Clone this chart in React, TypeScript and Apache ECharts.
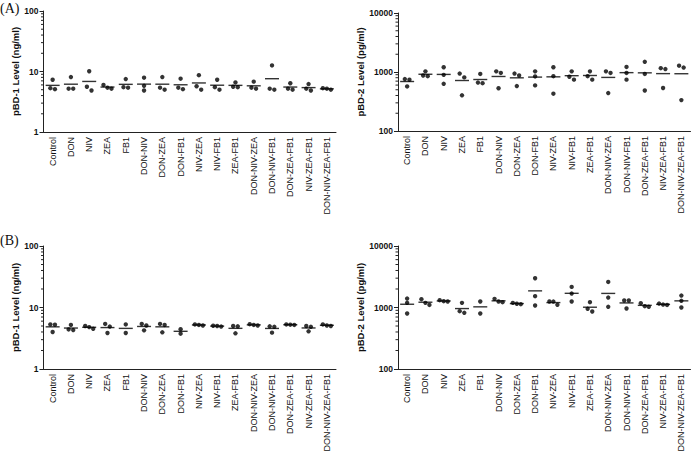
import React, { useEffect, useRef } from "react";
import * as echarts from "echarts";

const categories = [
  "Control", "DON", "NIV", "ZEA", "FB1", "DON-NIV", "DON-ZEA", "DON-FB1",
  "NIV-ZEA", "NIV-FB1", "ZEA-FB1", "DON-NIV-ZEA", "DON-NIV-FB1",
  "DON-ZEA-FB1", "NIV-ZEA-FB1", "DON-NIV-ZEA-FB1",
];

// (A) pBD-1 (ng/ml)
const aPbd1 = [
  [7.3, 5.1, 5.3], [8.1, 5.2, 5.2], [10.1, 4.85, 5.6], [6.0, 5.2, 5.4],
  [7.5, 5.4, 5.5], [7.9, 4.85, 5.8], [8.1, 5.0, 5.4], [7.6, 5.1, 5.4],
  [8.7, 5.0, 5.7], [7.3, 5.0, 5.5], [6.6, 5.6, 5.5], [6.8, 5.2, 5.4],
  [12.6, 5.0, 5.2], [6.4, 5.0, 5.2], [6.2, 4.85, 5.2], [5.2, 5.0, 5.3],
];
// (A) pBD-2 (pg/ml)
const aPbd2 = [
  [760, 740, 570], [1025, 872, 850], [1205, 894, 631], [940, 810, 403],
  [928, 663, 647], [1025, 964, 530], [940, 872, 578], [1025, 840, 593],
  [1205, 850, 429], [1025, 830, 742], [1025, 850, 742], [1025, 964, 440],
  [1220, 964, 742], [1490, 928, 486], [1160, 1120, 536], [1280, 1190, 334],
];
// (B) pBD-1 (ng/ml)
const bPbd1 = [
  [5.3, 5.25, 4.0], [5.2, 4.4, 4.3], [5.0, 4.8, 4.5], [5.4, 4.9, 3.85],
  [5.3, 3.85], [5.4, 5.1, 4.25], [5.4, 5.2, 3.95], [4.45, 3.75],
  [5.3, 5.1, 5.2], [5.0, 4.9, 5.05], [4.95, 5.0, 3.8], [5.35, 5.1, 5.2],
  [4.95, 4.85, 3.9], [5.3, 5.2, 5.25], [5.0, 4.85, 4.1], [5.3, 5.1, 5.0],
];
// (B) pBD-2 (pg/ml)
const bPbd2 = [
  [1399, 1190, 799], [1365, 1190, 1100], [1315, 1267, 1251], [1190, 872, 820],
  [1251, 799], [1382, 1251, 1220], [1190, 1150, 1133], [2990, 1527, 1078],
  [1251, 1250, 1105], [2163, 1687, 1251], [1220, 951, 861], [2607, 1452, 1025],
  [1299, 1299, 963], [1176, 1051, 1025], [1160, 1115, 1100], [1565, 1283, 1000],
];

const pbd1Ticks = [1, 10, 100];
const pbd2Ticks = [100, 1000, 10000];
const minorFactors = [2, 3, 4, 5, 6, 7, 8, 9];

const FONT = "Liberation Sans";

type Panel = {
  data: number[][];
  name: string;
  ticks: number[];
  grid: { left: number; top: number; width: number; height: number };
  nameGap: number;
};

const panels: Panel[] = [
  { data: aPbd1, name: "pBD-1 Level (ng/ml)", ticks: pbd1Ticks, grid: { left: 43.5, top: 11, width: 292.5, height: 121 }, nameGap: 19 },
  { data: aPbd2, name: "pBD-2 Level (pg/ml)", ticks: pbd2Ticks, grid: { left: 398, top: 13, width: 292.5, height: 118 }, nameGap: 27 },
  { data: bPbd1, name: "pBD-1 Level (ng/ml)", ticks: pbd1Ticks, grid: { left: 43.5, top: 246, width: 292.5, height: 123 }, nameGap: 19 },
  { data: bPbd2, name: "pBD-2 Level (pg/ml)", ticks: pbd2Ticks, grid: { left: 398, top: 246, width: 292.5, height: 123 }, nameGap: 27 },
];

function jitter(vals: number[], decadePx: number): number[] {
  const idx = vals.map((v, i) => ({ i, py: -Math.log10(v) * decadePx }));
  idx.sort((a, b) => a.py - b.py);
  const offs = new Array(vals.length).fill(0);
  let cluster: typeof idx = [];
  const flush = () => {
    const n = cluster.length;
    const pattern = n === 1 ? [0] : n === 2 ? [-2.3, 2.3] : n === 3 ? [-4, 0, 4] : cluster.map((_, k) => (k - (n - 1) / 2) * 4);
    cluster.forEach((c, k) => (offs[c.i] = pattern[k]));
    cluster = [];
  };
  idx.forEach((p) => {
    if (cluster.length && p.py - cluster[cluster.length - 1].py >= 4) flush();
    cluster.push(p);
  });
  if (cluster.length) flush();
  return offs;
}

export default function App() {
  const ref = useRef<HTMLDivElement>(null);
  useEffect(() => {
    if (!ref.current) return;
    const chart = echarts.init(ref.current, null, { renderer: "svg" });
    const grids: any[] = [];
    const xAxes: any[] = [];
    const yAxes: any[] = [];
    const series: any[] = [];
    panels.forEach((p, gi) => {
      grids.push({ ...p.grid, containLabel: false });
      xAxes.push({
        type: "category",
        gridIndex: gi,
        data: categories,
        boundaryGap: true,
        axisLine: { lineStyle: { color: "#222", width: 1 } },
        axisTick: { alignWithLabel: true, length: 4, lineStyle: { color: "#222" } },
        axisLabel: { rotate: 90, interval: 0, margin: 5, fontFamily: FONT, fontSize: 9, color: "#111" },
      });
      const lo = p.ticks[0];
      const hi = p.ticks[p.ticks.length - 1];
      yAxes.push({
        type: "log",
        logBase: 10,
        gridIndex: gi,
        min: lo,
        max: hi,
        interval: 1,
        name: p.name,
        nameLocation: "middle",
        nameGap: p.nameGap,
        nameTextStyle: { fontFamily: FONT, fontSize: 9.5, fontWeight: "bold", color: "#111" },
        axisLine: { show: true, lineStyle: { color: "#222", width: 1 } },
        axisTick: { show: true, length: 4, lineStyle: { color: "#222" } },
        axisLabel: { margin: 5, fontFamily: FONT, fontSize: 8.5, fontWeight: "bold", color: "#111", formatter: (v: number) => String(Math.round(v)) },
        splitLine: { show: false },
      });
      const decadePx = p.grid.height / (Math.log10(hi) - Math.log10(lo));
      const dots: any[] = [];
      const means: any[] = [];
      p.data.forEach((vals, ci) => {
        const offs = jitter(vals, decadePx);
        vals.forEach((v, k) => dots.push({ value: [ci, v], symbolOffset: [offs[k], 0] }));
        const m = vals.reduce((a, b) => a + b, 0) / vals.length;
        means.push([ci, m]);
      });
      series.push({
        type: "scatter", xAxisIndex: gi, yAxisIndex: gi, data: dots,
        symbol: "circle", symbolSize: 4.4, itemStyle: { color: "#000" }, silent: true, z: 3,
      });
      series.push({
        type: "scatter", xAxisIndex: gi, yAxisIndex: gi, data: means,
        symbol: "rect", symbolSize: [14, 1.4], itemStyle: { color: "#000" }, silent: true, z: 2,
      });
      const minors: number[][] = [];
      for (let d = lo; d < hi; d *= 10) minorFactors.forEach((f) => minors.push([0, d * f]));
      series.push({
        type: "custom", xAxisIndex: gi, yAxisIndex: gi, data: minors, silent: true,
        renderItem: (params: any, api: any) => {
          const pt = api.coord([0, api.value(1)]);
          const x0 = params.coordSys.x;
          return { type: "line", shape: { x1: x0 - 2.5, y1: pt[1], x2: x0, y2: pt[1] }, style: { stroke: "#222", lineWidth: 1 } };
        },
      });
    });
    chart.setOption({
      animation: false,
      backgroundColor: "#fff",
      grid: grids,
      xAxis: xAxes,
      yAxis: yAxes,
      series,
      graphic: [
        { type: "text", left: 0, top: 1, style: { text: "(A)", font: "14px 'Liberation Serif'", fill: "#111" } },
        { type: "text", left: 0, top: 233, style: { text: "(B)", font: "14px 'Liberation Serif'", fill: "#111" } },
      ],
    });
    return () => chart.dispose();
  }, []);
  return <div ref={ref} style={{ position: "fixed", left: 0, top: 0, width: 691, height: 457 }} />;
}
